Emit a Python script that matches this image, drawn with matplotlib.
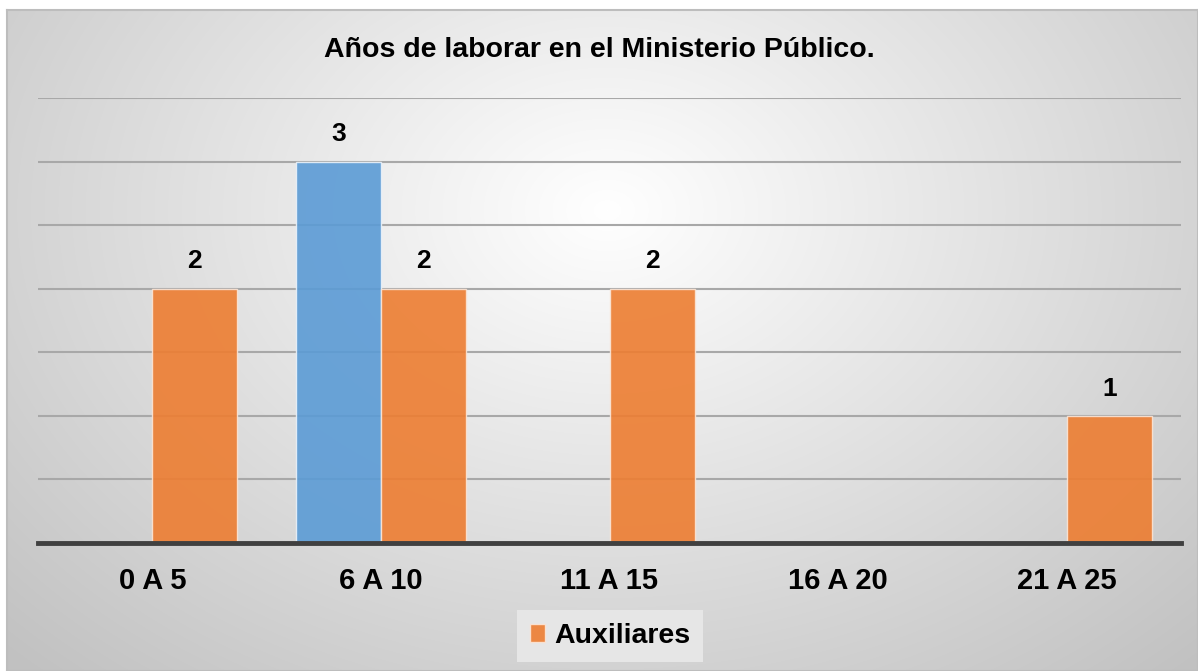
import numpy as np
import matplotlib.pyplot as plt

categorias = ["0 A 5", "6 A 10", "11 A 15", "16 A 20", "21 A 25"]
serie_azul = [0, 3, 0, 0, 0]
auxiliares = [2, 2, 2, 0, 1]

plt.rcParams['font.family'] = ['Liberation Sans', 'DejaVu Sans']

fig = plt.figure(figsize=(11.98, 6.71), dpi=100)

# fondo con degradado radial
bg = fig.add_axes([7/1198, 0, 1 - 7/1198, 1 - 10/671], zorder=0)
h, w = 661, 1191
yy, xx = np.mgrid[0:h, 0:w]
r = np.sqrt(((xx - 600) / 700.0) ** 2 + ((yy - 200) / 520.0) ** 2)
g = 1.0 - 0.24 * np.clip(r, 0, 1.2) / 1.2
bg.imshow(np.dstack([g, g, g]), aspect='auto', extent=[0, 1, 0, 1])
bg.set_xlim(0, 1)
bg.set_ylim(0, 1)
bg.set_xticks([])
bg.set_yticks([])
for s in bg.spines.values():
    s.set_color('#bdbdbd')
    s.set_linewidth(1.5)

ax = fig.add_axes([38/1198, 128/671, 1143/1198, 445/671], zorder=1)
ax.patch.set_alpha(0)

x = np.arange(len(categorias))
ancho = 0.372
b1 = ax.bar(x - ancho/2, serie_azul, ancho, color='#5b9bd5', alpha=0.9,
            edgecolor='#eaf2fa', linewidth=1, zorder=3)
b2 = ax.bar(x + ancho/2, auxiliares, ancho, color='#ed7d31', alpha=0.9,
            edgecolor='#fbe5d6', linewidth=1, zorder=3, label='Auxiliares')

for barras, valores in [(b1, serie_azul), (b2, auxiliares)]:
    for rect, v in zip(barras, valores):
        if v:
            ax.text(rect.get_x() + rect.get_width()/2, v + 0.12, str(v),
                    ha='center', va='bottom', fontsize=19, fontweight='bold')

ax.set_xlim(-0.5, len(categorias) - 0.5)
ax.set_ylim(0, 3.5)
ax.set_yticks(np.arange(0.5, 3.51, 0.5))
ax.yaxis.grid(True, color='#a8a8a8', linewidth=1.5, zorder=1)
ax.set_axisbelow(True)
ax.tick_params(axis='y', left=False, labelleft=False)
ax.tick_params(axis='x', length=0, pad=17)
ax.set_xticks(x)
ax.set_xticklabels(categorias, fontsize=21, fontweight='bold')
for s in ['top', 'right', 'left']:
    ax.spines[s].set_visible(False)
ax.spines['bottom'].set_color('#404040')
ax.spines['bottom'].set_linewidth(3.5)
ax.spines['bottom'].set_zorder(4)

fig.text(0.5, 1 - 50/671, "Años de laborar en el Ministerio Público.",
         ha='center', va='center', fontsize=20.5, fontweight='bold')

leg = fig.legend(handles=[b2], labels=['Auxiliares'], loc='center',
                 bbox_to_anchor=(610/1198, 1 - 636/671), frameon=True,
                 prop={'size': 20.5, 'weight': 'bold'}, handlelength=0.55,
                 handleheight=0.55, handletextpad=0.3, borderpad=0.45,
                 borderaxespad=0, fancybox=False)
leg.get_frame().set_facecolor('#e6e6e6')
leg.get_frame().set_edgecolor('none')
leg.get_frame().set_alpha(1)

fig.savefig('out.png', dpi=100)
